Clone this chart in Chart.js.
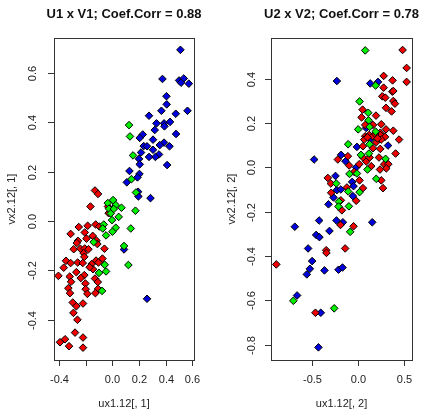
<!DOCTYPE html>
<html>
<head>
<meta charset="utf-8">
<script src="https://cdn.jsdelivr.net/npm/chart.js@4"></script>
<style>
body { margin: 0; background: #fff; }
#wrap { position: relative; width: 421px; height: 410px; }
canvas { position: absolute; top: 0; }
</style>
</head>
<body>
<div id="wrap">
<canvas id="panel1" width="210" height="410" style="left:0"></canvas>
<canvas id="panel2" width="211" height="410" style="left:210px"></canvas>
</div>
<script>
// left panel: U1 x V1, points are [ux1.12[,1], vx2.12[,1]]
let p1Red = [
  [-0.131,0.124],[-0.108,0.110],[-0.165,0.059],[-0.033,0.059],[-0.028,0.032],
  [-0.253,-0.024],[-0.186,-0.019],[-0.126,-0.014],[-0.098,-0.022],[-0.314,-0.052],
  [-0.208,-0.046],[-0.148,-0.060],[-0.195,-0.071],[-0.259,-0.080],[-0.268,-0.089],
  [-0.120,-0.079],[-0.113,-0.093],[-0.291,-0.114],[-0.241,-0.112],[-0.208,-0.111],
  [-0.180,-0.114],[-0.060,-0.112],[-0.216,-0.130],[-0.211,-0.145],[-0.349,-0.161],
  [-0.314,-0.170],[-0.261,-0.168],[-0.223,-0.170],[-0.156,-0.174],[-0.123,-0.160],
  [-0.075,-0.152],[-0.105,-0.168],[-0.366,-0.189],[-0.146,-0.195],[-0.171,-0.187],
  [-0.271,-0.207],[-0.211,-0.219],[-0.321,-0.225],[-0.238,-0.231],[-0.406,-0.222],
  [-0.311,-0.246],[-0.131,-0.233],[-0.110,-0.247],[-0.203,-0.253],[-0.331,-0.272],
  [-0.201,-0.276],[-0.108,-0.275],[-0.319,-0.292],[-0.188,-0.295],[-0.128,-0.292],
  [-0.298,-0.330],[-0.221,-0.334],[-0.271,-0.345],[-0.293,-0.372],[-0.263,-0.400],
  [-0.281,-0.452],[-0.221,-0.472],[-0.356,-0.479],[-0.394,-0.491],[-0.326,-0.507],
  [-0.221,-0.513]
];
let p1Green = [
  [0.125,0.389],[0.132,0.343],[0.155,0.266],[0.143,0.170],[0.177,0.116],[0.005,0.085],
  [-0.035,0.073],[0.025,0.065],[0.068,0.054],[-0.026,0.050],[0.010,0.049],[0.173,0.042],
  [-0.013,0.031],[0.047,0.017],[-0.003,0.004],[-0.065,-0.014],[0.025,-0.027],[-0.073,-0.030],
  [0.000,-0.043],[-0.048,-0.058],[0.138,-0.030],[-0.141,-0.085],[0.087,-0.101],[0.120,-0.178],
  [-0.058,-0.177],[-0.048,-0.204],[-0.101,-0.210],[-0.078,-0.283]
];
let p1Blue = [
  [0.511,0.694],[0.376,0.576],[0.501,0.570],[0.536,0.578],[0.516,0.561],[0.574,0.557],
  [0.406,0.506],[0.408,0.473],[0.564,0.447],[0.368,0.447],[0.476,0.435],[0.275,0.427],
  [0.331,0.396],[0.388,0.396],[0.433,0.402],[0.391,0.384],[0.318,0.369],[0.478,0.353],
  [0.228,0.351],[0.205,0.337],[0.305,0.330],[0.388,0.318],[0.356,0.308],[0.235,0.304],
  [0.260,0.303],[0.429,0.303],[0.305,0.289],[0.215,0.278],[0.350,0.270],[0.323,0.260],
  [0.275,0.260],[0.200,0.252],[0.205,0.230],[0.411,0.227],[0.128,0.203],[0.203,0.191],
  [0.188,0.177],[0.108,0.157],[0.193,0.119],[0.195,0.100],[0.286,0.093],[0.087,-0.115],
  [0.260,-0.315]
];

// right panel: U2 x V2, points are [ux1.12[,2], vx2.12[,2]]
let p2Red = [
  [0.490,0.529],[0.534,0.448],[0.534,0.385],[0.282,0.412],[0.380,0.392],[0.282,0.359],
  [0.377,0.341],[0.388,0.344],[0.267,0.320],[0.300,0.314],[0.388,0.299],[0.406,0.287],
  [0.308,0.268],[0.369,0.252],[0.051,0.260],[0.198,0.233],[0.040,0.225],[0.256,0.194],
  [0.080,0.191],[0.165,0.191],[0.308,0.171],[0.388,0.165],[0.245,0.156],[0.080,0.140],
  [0.124,0.146],[0.161,0.140],[0.245,0.146],[0.297,0.137],[0.451,0.125],[0.069,0.125],
  [0.201,0.113],[0.256,0.125],[0.190,0.150],[0.215,0.130],[0.105,0.135],[0.055,0.095],
  [0.165,0.086],[0.245,0.083],[0.413,0.062],[-0.110,0.050],[-0.220,0.035],[0.055,0.044],
  [0.091,0.026],[0.128,0.044],[0.231,0.044],[-0.096,0.008],[0.014,0.014],[0.146,0.005],
  [0.289,0.014],[0.333,0.014],[0.311,-0.005],[0.242,-0.010],[-0.041,-0.021],[-0.330,-0.048],
  [0.018,-0.059],[0.256,-0.059],[-0.297,-0.073],[0.275,-0.094],[-0.121,-0.091],[0.055,-0.094],
  [-0.293,-0.115],[-0.187,-0.149],[-0.019,-0.151],[-0.176,-0.194],[-0.191,-0.260],
  [-0.048,-0.266],[-0.348,-0.374],[-0.345,-0.386],[-0.140,-0.366],[-0.895,-0.438],
  [-0.466,-0.656]
];
let p2Green = [
  [0.080,0.527],[0.194,0.369],[0.018,0.297],[0.113,0.246],[0.117,0.212],[0.003,0.171],
  [0.128,0.182],[0.194,0.161],[0.128,0.104],[-0.107,0.104],[0.033,0.056],[0.121,0.062],
  [0.303,0.038],[0.105,-0.010],[-0.092,-0.030],[-0.011,-0.028],[0.201,-0.052],[-0.238,-0.073],
  [0.018,-0.112],[-0.107,-0.109],[-0.209,-0.155],[-0.213,-0.177],[-0.099,-0.176],
  [-0.085,-0.291],[-0.708,-0.602],[-0.260,-0.636]
];
let p2Blue = [
  [-0.231,0.389],[0.135,0.378],[0.220,0.385],[0.091,0.177],[0.135,0.125],[0.330,0.098],
  [-0.011,0.092],[-0.184,0.056],[-0.480,0.035],[-0.136,0.027],[-0.019,-0.001],[-0.246,-0.039],
  [-0.063,-0.066],[-0.048,-0.085],[-0.231,-0.103],[-0.187,-0.100],[-0.268,-0.136],
  [-0.055,-0.130],[-0.323,-0.167],[-0.692,-0.268],[-0.425,-0.240],[-0.235,-0.240],
  [-0.165,-0.248],[0.157,-0.248],[-0.312,-0.287],[-0.458,-0.305],[-0.422,-0.315],
  [-0.546,-0.366],[-0.502,-0.423],[-0.527,-0.458],[-0.367,-0.465],[-0.213,-0.462],
  [-0.169,-0.452],[-0.560,-0.483],[-0.667,-0.578],[-0.407,-0.656],[-0.433,-0.812]
];

// axis ticks (blank label = tick drawn, label dropped like R does)
let p1XTicks = [-0.4, -0.2, 0, 0.2, 0.4, 0.6];
let p1XLabels = ['-0.4', '', '0.0', '0.2', '0.4', '0.6'];
let p1YTicks = [-0.4, -0.2, 0, 0.2, 0.4, 0.6];
let p1YLabels = ['-0.4', '-0.2', '0.0', '0.2', '0.4', '0.6'];
let p2XTicks = [-0.5, 0, 0.5];
let p2XLabels = ['-0.5', '0.0', '0.5'];
let p2YTicks = [-0.8, -0.6, -0.4, -0.2, 0, 0.2, 0.4];
let p2YLabels = ['-0.8', '-0.6', '-0.4', '-0.2', '0.0', '0.2', '0.4'];

const FONT = '"Liberation Sans", Arial, Helvetica, sans-serif';

// R style frame: box, outward ticks, rotated y labels, titles
const rFrame = {
  id: 'rFrame',
  afterDraw(chart, args, o) {
    const ctx = chart.ctx;
    const a = chart.chartArea;
    const x = chart.scales.x, y = chart.scales.y;
    ctx.save();
    ctx.strokeStyle = '#333';
    ctx.lineWidth = 1;
    ctx.strokeRect(Math.round(a.left) + 0.5, Math.round(a.top) + 0.5,
                   Math.round(a.width), Math.round(a.height));
    ctx.fillStyle = '#222';
    ctx.font = '11px ' + FONT;
    ctx.textAlign = 'center';
    ctx.textBaseline = 'middle';

    o.xTicks.forEach((v, i) => {
      let px = Math.round(x.getPixelForValue(v)) + 0.5;
      ctx.beginPath();
      ctx.moveTo(px, a.bottom);
      ctx.lineTo(px, a.bottom + 6);
      ctx.stroke();
      if (o.xLabels[i]) ctx.fillText(o.xLabels[i], px, a.bottom + 20);
    });
    ctx.fillText(o.xTitle, (a.left + a.right) / 2, a.bottom + 44);

    o.yTicks.forEach((v, i) => {
      let py = Math.round(y.getPixelForValue(v)) + 0.5;
      ctx.beginPath();
      ctx.moveTo(a.left - 6, py);
      ctx.lineTo(a.left, py);
      ctx.stroke();
      ctx.save();
      ctx.translate(a.left - o.yLabelGap, py);
      ctx.rotate(-Math.PI / 2);
      ctx.fillText(o.yLabels[i], 0, 0);
      ctx.restore();
    });
    ctx.save();
    ctx.translate(a.left - o.yTitleGap, (a.top + a.bottom) / 2);
    ctx.rotate(-Math.PI / 2);
    ctx.fillText(o.yTitle, 0, 0);
    ctx.restore();

    ctx.font = 'bold 13px ' + FONT;
    ctx.fillStyle = '#111';
    ctx.fillText(o.title, (a.left + a.right) / 2, 14);
    ctx.restore();
  }
};

function diamonds(points, color) {
  return {
    data: points.map(p => ({ x: p[0], y: p[1] })),
    pointStyle: 'rectRot',
    pointRadius: 3.8,
    pointBorderWidth: 1,
    pointBorderColor: '#000',
    pointBackgroundColor: color,
    showLine: false
  };
}

function makePanel(id, red, green, blue, xr, yr, pad, frame) {
  return new Chart(document.getElementById(id), {
    type: 'scatter',
    data: {
      // first dataset is drawn on top
      datasets: [diamonds(green, '#00ee00'), diamonds(red, '#ee0000'), diamonds(blue, '#0000dd')]
    },
    options: {
      responsive: false,
      animation: false,
      devicePixelRatio: 1,
      layout: { padding: pad },
      scales: {
        x: { type: 'linear', min: xr[0], max: xr[1], display: false },
        y: { type: 'linear', min: yr[0], max: yr[1], display: false }
      },
      plugins: {
        legend: { display: false },
        tooltip: { enabled: false },
        rFrame: frame
      }
    },
    plugins: [rFrame]
  });
}

makePanel('panel1', p1Red, p1Green, p1Blue, [-0.439, 0.613], [-0.563, 0.742],
  { left: 54, right: 16, top: 38, bottom: 50 },
  { title: 'U1 x V1; Coef.Corr = 0.88', xTitle: 'ux1.12[, 1]', yTitle: 'vx2.12[, 1]',
    xTicks: p1XTicks, xLabels: p1XLabels, yTicks: p1YTicks, yLabels: p1YLabels,
    yLabelGap: 21, yTitleGap: 42 });

makePanel('panel2', p2Red, p2Green, p2Blue, [-0.953, 0.593], [-0.869, 0.583],
  { left: 61, right: 9, top: 38, bottom: 50 },
  { title: 'U2 x V2; Coef.Corr = 0.78', xTitle: 'ux1.12[, 2]', yTitle: 'vx2.12[, 2]',
    xTicks: p2XTicks, xLabels: p2XLabels, yTicks: p2YTicks, yLabels: p2YLabels,
    yLabelGap: 19, yTitleGap: 39 });
</script>
</body>
</html>
